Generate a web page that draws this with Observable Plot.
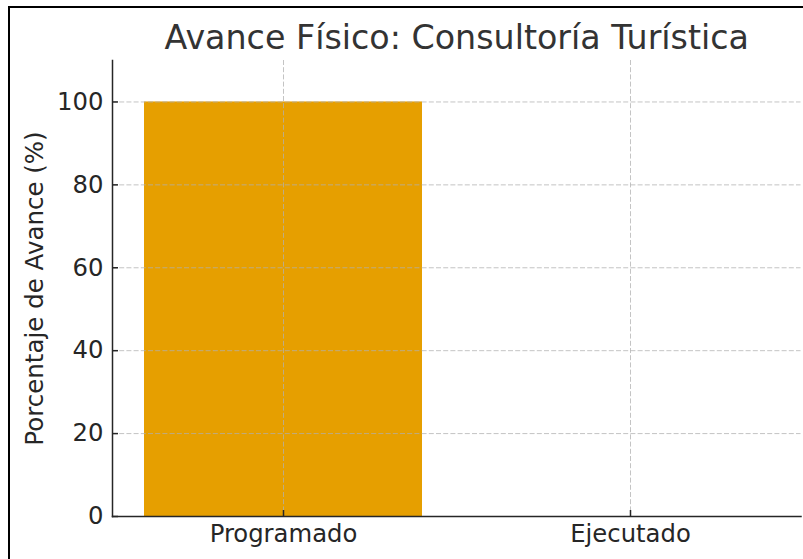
<!DOCTYPE html>
<html><head><meta charset="utf-8">
<script src="https://cdn.jsdelivr.net/npm/d3@7"></script>
<script src="https://cdn.jsdelivr.net/npm/@observablehq/plot@0.6"></script>
<style>
html,body{margin:0;padding:0;background:#fff;overflow:hidden;width:803px;height:559px;}
#wrap{position:relative;width:803px;height:559px;overflow:hidden;}
#border{position:absolute;left:8px;top:6px;width:1000px;height:1000px;border:2px solid #000;pointer-events:none;}
</style></head><body><div id="wrap"><div id="chart"></div><div id="border"></div></div>
<script>
const title = "Avance Físico: Consultoría Turística";
const yLabel = "Porcentaje de Avance (%)";
const categories = ["Programado", "Ejecutado"];
const values = [100, 0];
const yTicks = [0, 20, 40, 60, 80, 100];
const data = categories.map((c, i) => ({category: c, value: values[i]}));

const gridStyle = {stroke: "#b0b0b0", strokeOpacity: 0.75, strokeDasharray: "5,2.2", strokeWidth: 1};

const chart = Plot.plot({
  width: 803,
  height: 559,
  marginLeft: 112,
  marginRight: 2.5,
  marginTop: 60,
  marginBottom: 43,
  style: {fontFamily: "DejaVu Sans", fontSize: "24px", color: "#262626", background: "transparent"},
  x: {domain: categories, paddingInner: 0.2, paddingOuter: 0.09, label: null},
  y: {domain: [0, 110], label: null},
  marks: [
    Plot.barY(data, {x: "category", y: "value", fill: "#E69F00"}),
    Plot.gridY(yTicks, gridStyle),
    Plot.gridX(categories, gridStyle),
    Plot.frame({anchor: "left", stroke: "#262626", strokeWidth: 1.5}),
    Plot.frame({anchor: "bottom", stroke: "#262626", strokeWidth: 1.5}),
    Plot.axisY(yTicks, {tickSize: -6, tickPadding: 15, fontSize: 24.3, label: null, strokeWidth: 1.5}),
    Plot.axisX(categories, {tickSize: -6, tickPadding: 14, fontSize: 24.3, label: null, strokeWidth: 1.5}),
    Plot.text([title], {frameAnchor: "top", dy: -12, lineAnchor: "bottom", fontSize: 33.3, fill: "#333", text: d => d}),
    Plot.text([yLabel], {frameAnchor: "left", dx: -77, rotate: -90, textAnchor: "middle", lineAnchor: "middle", fontSize: 24.5, fill: "#262626", text: d => d})
  ]
});
document.getElementById("chart").appendChild(chart);
</script>
</body></html>
